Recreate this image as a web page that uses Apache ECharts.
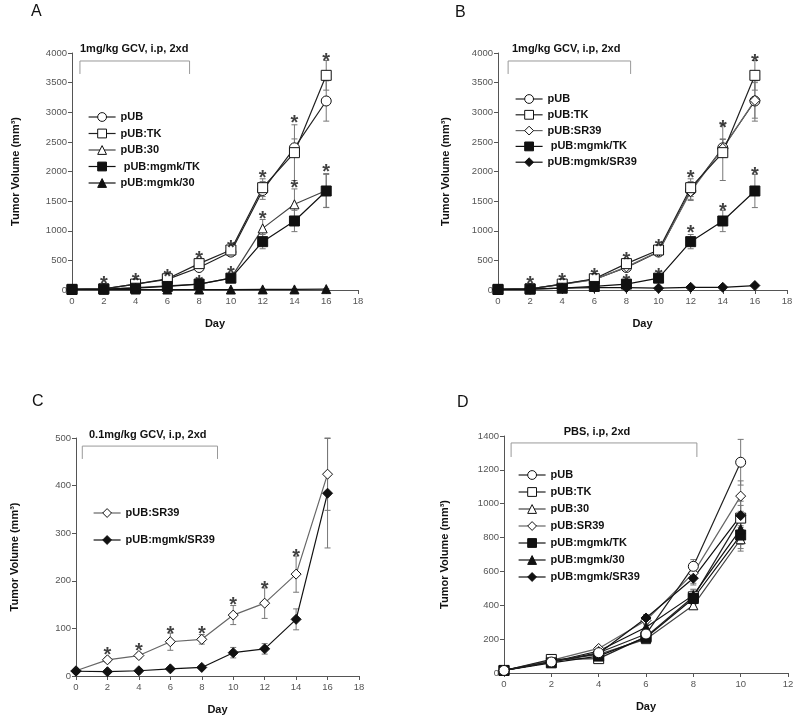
<!DOCTYPE html>
<html><head><meta charset="utf-8">
<script src="https://cdn.jsdelivr.net/npm/echarts@6/dist/echarts.min.js"></script>
<style>html,body{margin:0;padding:0;background:#fff}#c{width:800px;height:722px}</style>
</head><body><div id="c"></div><script>
// ---------- data ----------
const days = [0,2,4,6,8,10,12,14,16];
const daysD = [0,2,4,6,8,10];

// Panel A
const A_pUB      = [10,20,100,180,380,640,1680,2400,3190];
const A_pUB_err  = [4,8,20,30,40,60,150,150,340];
const A_TK       = [10,20,100,190,445,675,1727,2318,3623];
const A_TK_err   = [4,8,20,30,50,50,150,470,250];
const A_30       = [10,15,40,70,100,200,1040,1446,1680];
const A_30_err   = [4,5,10,15,20,30,150,260,285];
const A_mTK      = [10,15,30,60,100,200,816,1165,1671];
const A_mTK_err  = [4,5,10,15,20,30,120,180,280];
const A_m30      = [10,8,8,8,8,8,10,10,15];
const A_m30_err  = [3,3,3,3,3,3,3,4,5];
const A_stars    = [[2,200],[4,250],[6,320],[8,620],[8,215],[10,810],[10,370],[12,1990],[12,1290],[14,2910],[14,1820],[16,3950],[16,2080]];
const A_bracket  = [[0.5,3646],[0.5,3865],[7.4,3865],[7.4,3646]];

// Panel B
const B_pUB      = [10,20,100,180,380,640,1680,2400,3190];
const B_pUB_err  = [4,8,20,30,40,60,150,150,340];
const B_TK       = [10,20,100,190,445,675,1727,2318,3623];
const B_TK_err   = [4,8,20,30,50,50,150,470,250];
const B_SR39     = [10,20,95,175,390,650,1660,2390,3200];
const B_SR39_err = [4,8,20,30,40,60,150,150,300];
const B_mTK      = [10,15,30,60,100,200,816,1165,1671];
const B_mTK_err  = [4,5,10,15,20,30,120,180,280];
const B_mSR39    = [10,15,30,40,40,30,45,45,75];
const B_mSR39_err= [3,3,5,5,5,5,8,8,12];
const B_stars    = [[2,200],[4,250],[6,330],[8,600],[8,225],[10,820],[10,330],[12,1980],[12,1050],[14,2824],[14,1434],[16,3949],[16,2037]];
const B_bracket  = [[0.63,3646],[0.63,3865],[8.26,3865],[8.26,3646]];

// Panel C
const C_SR39     = [11,34,43,72,77,128,153,214,424];
const C_SR39_err = [2,5,5,18,10,20,32,38,76];
const C_mSR39    = [10,9,11,15,18,49,57,119,384];
const C_mSR39_err= [2,2,2,3,3,11,11,22,115];
const C_stars    = [[2,55],[4,65],[6,100],[8,100],[10,160],[12,194],[14,262]];
const C_bracket  = [[0.4,456],[0.4,483],[9.0,483],[9.0,456]];

// Panel D
const D_pUB      = [15,65,120,230,630,1245];
const D_pUB_err  = [5,10,15,20,40,135];
const D_TK       = [15,80,85,215,450,915];
const D_TK_err   = [5,10,10,20,40,100];
const D_30       = [15,70,110,200,400,790];
const D_30_err   = [5,10,10,15,25,70];
const D_SR39     = [15,75,145,310,590,1045];
const D_SR39_err = [5,10,10,25,60,90];
const D_mTK      = [15,60,100,210,440,815];
const D_mTK_err  = [5,8,10,20,35,80];
const D_m30      = [15,65,130,270,460,850];
const D_m30_err  = [5,8,10,25,35,90];
const D_mSR39    = [15,65,115,325,560,930];
const D_mSR39_err= [5,8,10,20,40,60];
const D_bracket  = [[0.3,1276],[0.3,1359],[8.15,1359],[8.15,1276]];

// ---------- styles ----------
const FONT = 'Liberation Sans, Arial, sans-serif';
const STY = {
  'pUB':            {symbol:'circle',   size:10, color:'#222', fill:'#fff'},
  'pUB:TK':         {symbol:'rect',     size:10, color:'#222', fill:'#fff'},
  'pUB:30':         {symbol:'triangle', size:9,  color:'#444', fill:'#fff'},
  'pUB:SR39':       {symbol:'diamond',  size:10, color:'#666', fill:'#fff'},
  'pUB:mgmk/TK':    {symbol:'rect',     size:10, color:'#111', fill:'#111'},
  'pUB:mgmk/30':    {symbol:'triangle', size:9,  color:'#111', fill:'#111'},
  'pUB:mgmk/SR39':  {symbol:'diamond',  size:10, color:'#111', fill:'#111'}
};

const series = [];
function addLine(name, xs, ys, errs, idx) {
  const s = STY[name];
  const data = xs.map((x,i)=>[x, ys[i]]);
  series.push({
    type:'custom', name:name + ' (SD)', xAxisIndex:idx, yAxisIndex:idx, z:1, silent:true,
    data: xs.map((x,i)=>[x, ys[i], errs[i]]),
    renderItem: function(params, api){
      const x = api.value(0), y = api.value(1), e = api.value(2);
      const hi = api.coord([x, y+e]), lo = api.coord([x, y-e]);
      const st = {stroke:'#777', lineWidth:1};
      return {type:'group', children:[
        {type:'line', shape:{x1:hi[0],y1:hi[1],x2:lo[0],y2:lo[1]}, style:st},
        {type:'line', shape:{x1:hi[0]-3,y1:hi[1],x2:hi[0]+3,y2:hi[1]}, style:st},
        {type:'line', shape:{x1:lo[0]-3,y1:lo[1],x2:lo[0]+3,y2:lo[1]}, style:st}
      ]};
    }
  });
  series.push({
    type:'line', name:name, xAxisIndex:idx, yAxisIndex:idx, z:3,
    data:data, symbol:s.symbol, symbolSize:s.size, showAllSymbol:true,
    lineStyle:{color:s.color, width:1.2},
    itemStyle:{color:s.fill, borderColor:'#111', borderWidth:1},
    emphasis:{disabled:true}, animation:false
  });
}
function addStars(pts, idx) {
  series.push({
    type:'scatter', xAxisIndex:idx, yAxisIndex:idx, z:5, silent:true,
    data:pts, symbol:'rect', symbolSize:1, itemStyle:{color:'rgba(0,0,0,0)'},
    label:{show:true, position:'inside', formatter:'*', fontSize:20, fontWeight:'bold',
           color:'#111', fontFamily:FONT, offset:[0,6]}
  });
}
function addBracket(pts, idx) {
  series.push({
    type:'line', xAxisIndex:idx, yAxisIndex:idx, z:2, silent:true,
    data:pts, symbol:'none', lineStyle:{color:'#999', width:1}, animation:false
  });
}

// Panel A (0)
addLine('pUB', days, A_pUB, A_pUB_err, 0);
addLine('pUB:TK', days, A_TK, A_TK_err, 0);
addLine('pUB:30', days, A_30, A_30_err, 0);
addLine('pUB:mgmk/TK', days, A_mTK, A_mTK_err, 0);
addLine('pUB:mgmk/30', days, A_m30, A_m30_err, 0);
addStars(A_stars, 0); addBracket(A_bracket, 0);
// Panel B (1)
addLine('pUB', days, B_pUB, B_pUB_err, 1);
addLine('pUB:SR39', days, B_SR39, B_SR39_err, 1);
addLine('pUB:TK', days, B_TK, B_TK_err, 1);
addLine('pUB:mgmk/TK', days, B_mTK, B_mTK_err, 1);
addLine('pUB:mgmk/SR39', days, B_mSR39, B_mSR39_err, 1);
addStars(B_stars, 1); addBracket(B_bracket, 1);
// Panel C (2)
addLine('pUB:SR39', days, C_SR39, C_SR39_err, 2);
addLine('pUB:mgmk/SR39', days, C_mSR39, C_mSR39_err, 2);
addStars(C_stars, 2); addBracket(C_bracket, 2);
// Panel D (3)
addLine('pUB:SR39', daysD, D_SR39, D_SR39_err, 3);
addLine('pUB:30', daysD, D_30, D_30_err, 3);
addLine('pUB:TK', daysD, D_TK, D_TK_err, 3);
addLine('pUB:mgmk/TK', daysD, D_mTK, D_mTK_err, 3);
addLine('pUB:mgmk/30', daysD, D_m30, D_m30_err, 3);
addLine('pUB:mgmk/SR39', daysD, D_mSR39, D_mSR39_err, 3);
addLine('pUB', daysD, D_pUB, D_pUB_err, 3);
addBracket(D_bracket, 3);

// ---------- axes ----------
const grids = [
  {left:72, top:53, width:286, height:237},
  {left:498, top:53, width:289, height:237},
  {left:76, top:438, width:283, height:238},
  {left:504, top:436, width:284, height:237}
];
const xMax = [18,18,18,12];
const yMax = [4000,4000,500,1400];
const yInt = [500,500,100,200];
const yGap = [51,47,56,54];
const axLine = {lineStyle:{color:'#555', width:1}};
const axTick = {show:true, length:4, lineStyle:{color:'#555'}};
const nameSty = {fontSize:11, fontWeight:'bold', color:'#111', fontFamily:FONT};
const xAxis = grids.map((g,i)=>({
  type:'value', gridIndex:i, min:0, max:xMax[i], interval:2,
  axisLine:axLine, axisTick:axTick, splitLine:{show:false},
  axisLabel:{fontSize:9.5, color:'#555', fontFamily:FONT, margin:6, formatter:v=>String(v)},
  name:'Day', nameLocation:'middle', nameGap:28, nameTextStyle:nameSty
}));
const yAxis = grids.map((g,i)=>({
  type:'value', gridIndex:i, min:0, max:yMax[i], interval:yInt[i],
  axisLine:{show:true, lineStyle:{color:'#555', width:1}}, axisTick:axTick, splitLine:{show:false},
  axisLabel:{fontSize:9.5, color:'#555', fontFamily:FONT, margin:5, formatter:v=>String(v)},
  name:'Tumor Volume (mm³)', nameLocation:'middle', nameGap:yGap[i], nameTextStyle:nameSty
}));

// ---------- legends ----------
const legTxt = {fontSize:11, fontWeight:'bold', color:'#111', fontFamily:FONT, lineHeight:14};
function leg(left, top, gap, names, pad){
  return {left:left, top:top, orient:'vertical', itemWidth:27, itemHeight:11, itemGap:gap,
          padding:0, selectedMode:false, textStyle:legTxt, data:names,
          lineStyle:{width:1.2}, itemStyle:{borderWidth:1},
          formatter: n => (pad && n === 'pUB:mgmk/TK') ? ' ' + n : n};
}
const legend = [
  leg(88, 110, 2.5, ['pUB','pUB:TK','pUB:30','pUB:mgmk/TK','pUB:mgmk/30'], true),
  leg(515, 92, 1.8, ['pUB','pUB:TK','pUB:SR39','pUB:mgmk/TK','pUB:mgmk/SR39'], true),
  leg(93, 506, 13, ['pUB:SR39','pUB:mgmk/SR39']),
  leg(518, 468, 3, ['pUB','pUB:TK','pUB:30','pUB:SR39','pUB:mgmk/TK','pUB:mgmk/30','pUB:mgmk/SR39'])
];

// ---------- text annotations ----------
function txt(x, y, s, size, weight, align){
  return {type:'text', x:x, y:y, silent:true,
    style:{text:s, fontSize:size, fontWeight:weight, fill:'#111', fontFamily:FONT,
           align:align||'left', verticalAlign:'middle'}};
}
const graphic = [
  txt(31, 12, 'A', 16, 'normal'),
  txt(455, 13, 'B', 16, 'normal'),
  txt(32, 402, 'C', 16, 'normal'),
  txt(457, 403, 'D', 16, 'normal'),
  txt(80, 49, '1mg/kg GCV, i.p, 2xd', 11, 'bold'),
  txt(512, 49, '1mg/kg GCV, i.p, 2xd', 11, 'bold'),
  txt(89, 435, '0.1mg/kg GCV, i.p, 2xd', 11, 'bold'),
  txt(597, 432, 'PBS, i.p, 2xd', 11, 'bold', 'center')
];

const chart = echarts.init(document.getElementById('c'), null, {renderer:'canvas'});
chart.setOption({
  backgroundColor:'#fff', animation:false,
  grid:grids, xAxis:xAxis, yAxis:yAxis, legend:legend, graphic:graphic, series:series
});
</script></body></html>
